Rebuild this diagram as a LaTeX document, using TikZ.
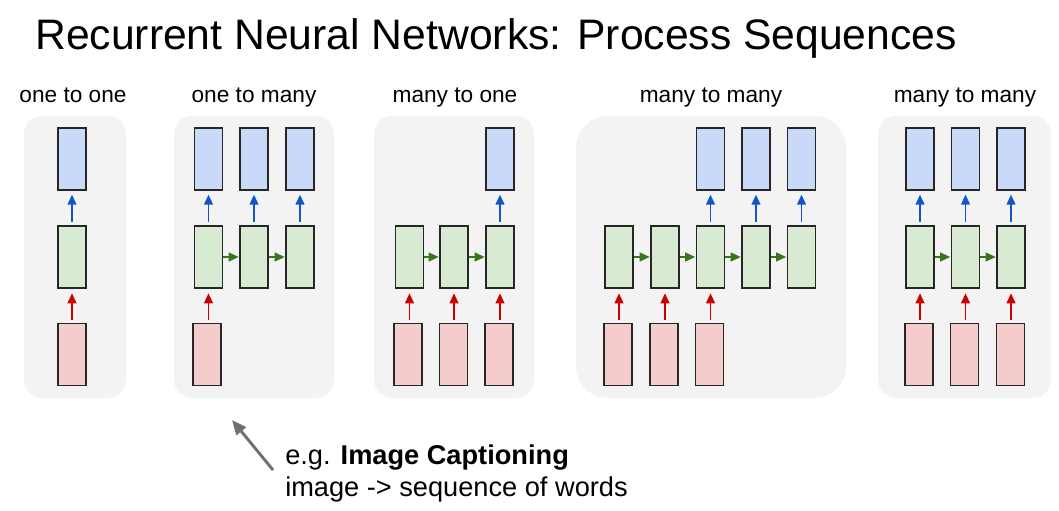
\documentclass[tikz,border=0pt]{standalone}
\usepackage{fontspec}
\setmainfont{Liberation Sans}
\usetikzlibrary{arrows.meta}
\definecolor{panelbg}{HTML}{F3F3F3}
\definecolor{bluefill}{HTML}{C9DAF8}
\definecolor{greenfill}{HTML}{D9EAD3}
\definecolor{redfill}{HTML}{F4CCCC}
\definecolor{bluearr}{HTML}{1155CC}
\definecolor{redarr}{HTML}{CC0000}
\definecolor{greenarr}{HTML}{38761D}
\definecolor{grayarr}{HTML}{707070}
\definecolor{boxline}{HTML}{262626}
\tikzset{
  panel/.style={fill=panelbg, draw=none, rounded corners=13.5pt},
  bigpanel/.style={fill=panelbg, draw=none, rounded corners=24pt},
  cell/.style={rectangle, draw=boxline, line width=0.9pt, minimum width=21pt, minimum height=46.5pt, inner sep=0pt},
  outbox/.style={cell, fill=bluefill},
  hidbox/.style={cell, fill=greenfill},
  inbox/.style={cell, fill=redfill},
  uparr/.style={line width=1.4pt, shorten <=2.25pt, shorten >=3pt},
  outarr/.style={uparr, draw=bluearr, -{Triangle[length=7.5pt,width=6.5pt,fill=bluearr]}},
  inarr/.style={uparr, draw=redarr, -{Triangle[length=7.5pt,width=6.5pt,fill=redarr]}, shorten >=3.5pt},
  recarr/.style={line width=1.4pt, draw=greenarr, -{Triangle[length=7.5pt,width=6.5pt,fill=greenarr]}, shorten >=0.5pt},
  lbl/.style={anchor=base, inner sep=0pt, font=\fontsize{17}{20}\selectfont},
}
\begin{document}
\begin{tikzpicture}[x=0.75pt,y=-0.75pt]
\useasboundingbox (0,0) rectangle (1059,510);
\fill[white] (0,0) rectangle (1059,510);

\node[anchor=base west, inner sep=0pt, font=\fontsize{32}{38}\selectfont] (title) at (35,50) {Recurrent Neural Networks: Process Sequences};

% labels
\node[lbl] (l1) at (73,102) {one to one};
\node[lbl] (l2) at (254,102) {one to many};
\node[lbl] (l3) at (455,102) {many to one};
\node[lbl] (l4) at (711,102) {many to many};
\node[lbl] (l5) at (965,102) {many to many};

% panels
\fill[panel] (24,116) rectangle (126,398);
\fill[panel] (174,116) rectangle (334,398);
\fill[panel] (374,116) rectangle (534,398);
\fill[bigpanel] (576,116) rectangle (846,398);
\fill[panel] (878,116) rectangle (1051,398);

% ---- panel 1: one to one
\node[outbox] (ao1) at (72,159) {};
\node[hidbox] (ah1) at (72,257) {};
\node[inbox]  (ai1) at (72,354.5) {};
\draw[outarr] (ah1.north) -- (ao1.south);
\draw[inarr] (ai1.north) -- (ah1.south);

% ---- panel 2: one to many
\node[outbox] (bo1) at (208.5,159) {};
\node[outbox] (bo2) at (254,159) {};
\node[outbox] (bo3) at (300,159) {};
\node[hidbox] (bh1) at (208.5,257) {};
\node[hidbox] (bh2) at (254,257) {};
\node[hidbox] (bh3) at (300,257) {};
\node[inbox]  (bi1) at (207,354.5) {};
\draw[outarr] (bh1.north) -- (bo1.south);
\draw[outarr] (bh2.north) -- (bo2.south);
\draw[outarr] (bh3.north) -- (bo3.south);
\draw[recarr] (bh1.east) -- (bh2.west);
\draw[recarr] (bh2.east) -- (bh3.west);
\draw[inarr] (bh1.south |- bi1.north) -- (bh1.south);

% ---- panel 3: many to one
\node[outbox] (co3) at (500,159) {};
\node[hidbox] (ch1) at (409.5,257) {};
\node[hidbox] (ch2) at (454,257) {};
\node[hidbox] (ch3) at (500,257) {};
\node[inbox]  (ci1) at (408,354.5) {};
\node[inbox]  (ci2) at (453.5,354.5) {};
\node[inbox]  (ci3) at (499,354.5) {};
\draw[outarr] (ch3.north) -- (co3.south);
\draw[recarr] (ch1.east) -- (ch2.west);
\draw[recarr] (ch2.east) -- (ch3.west);
\draw[inarr] (ch1.south |- ci1.north) -- (ch1.south);
\draw[inarr] (ch2.south |- ci2.north) -- (ch2.south);
\draw[inarr] (ch3.south |- ci3.north) -- (ch3.south);

% ---- panel 4: many to many (delayed)
\node[outbox] (do3) at (710.5,159) {};
\node[outbox] (do4) at (756,159) {};
\node[outbox] (do5) at (801.5,159) {};
\node[hidbox] (dh1) at (619,257) {};
\node[hidbox] (dh2) at (665,257) {};
\node[hidbox] (dh3) at (710.5,257) {};
\node[hidbox] (dh4) at (756,257) {};
\node[hidbox] (dh5) at (801.5,257) {};
\node[inbox]  (di1) at (618,354.5) {};
\node[inbox]  (di2) at (664,354.5) {};
\node[inbox]  (di3) at (709.5,354.5) {};
\draw[outarr] (dh3.north) -- (do3.south);
\draw[outarr] (dh4.north) -- (do4.south);
\draw[outarr] (dh5.north) -- (do5.south);
\draw[recarr] (dh1.east) -- (dh2.west);
\draw[recarr] (dh2.east) -- (dh3.west);
\draw[recarr] (dh3.east) -- (dh4.west);
\draw[recarr] (dh4.east) -- (dh5.west);
\draw[inarr] (dh1.south |- di1.north) -- (dh1.south);
\draw[inarr] (dh2.south |- di2.north) -- (dh2.south);
\draw[inarr] (dh3.south |- di3.north) -- (dh3.south);

% ---- panel 5: many to many (synced)
\node[outbox] (eo1) at (920,159) {};
\node[outbox] (eo2) at (965.5,159) {};
\node[outbox] (eo3) at (1011,159) {};
\node[hidbox] (eh1) at (920,257) {};
\node[hidbox] (eh2) at (965.5,257) {};
\node[hidbox] (eh3) at (1011,257) {};
\node[inbox]  (ei1) at (919,354.5) {};
\node[inbox]  (ei2) at (964.5,354.5) {};
\node[inbox]  (ei3) at (1010.5,354.5) {};
\draw[outarr] (eh1.north) -- (eo1.south);
\draw[outarr] (eh2.north) -- (eo2.south);
\draw[outarr] (eh3.north) -- (eo3.south);
\draw[recarr] (eh1.east) -- (eh2.west);
\draw[recarr] (eh2.east) -- (eh3.west);
\draw[inarr] (eh1.south |- ei1.north) -- (eh1.south);
\draw[inarr] (eh2.south |- ei2.north) -- (eh2.south);
\draw[inarr] (eh3.south |- ei3.north) -- (eh3.south);

% ---- annotation
\node[anchor=base west, inner sep=0pt, font=\fontsize{20.4}{24}\selectfont] (ann1) at (285,464) {e.g. \textbf{Image Captioning}};
\node[anchor=base west, inner sep=0pt, font=\fontsize{20.4}{24}\selectfont] (ann2) at (285,496) {image -> sequence of words};
\coordinate (annTail) at (273,470);
\coordinate (annTip) at (232,420);
\draw[draw=grayarr, line width=2.2pt, -{Triangle[length=11pt,width=9pt,fill=grayarr]}] (annTail) -- (annTip);
\end{tikzpicture}
\end{document}
